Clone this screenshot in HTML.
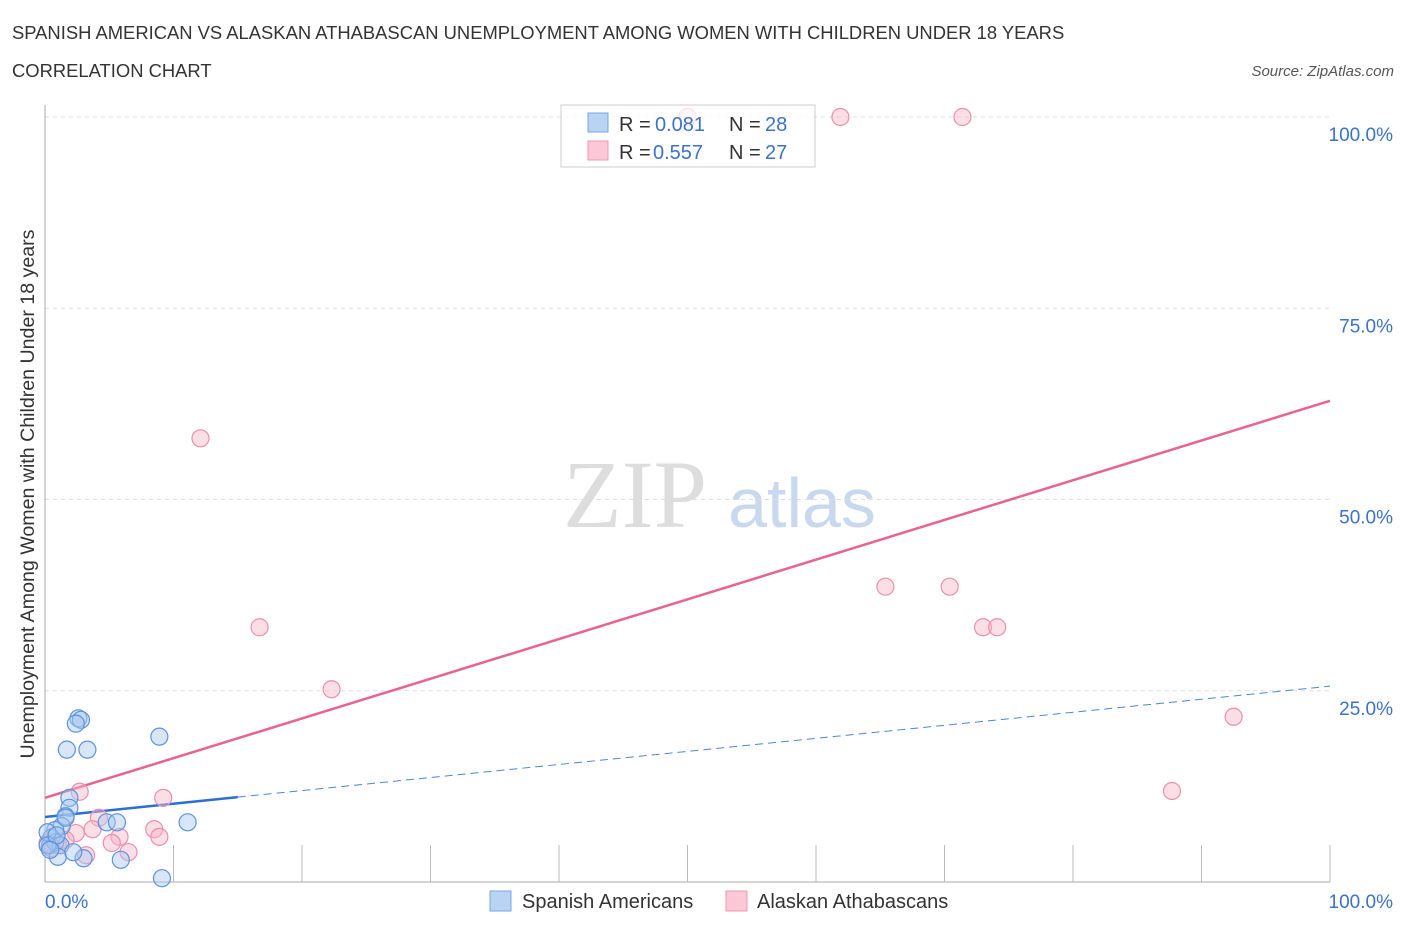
<!DOCTYPE html>
<html><head><meta charset="utf-8"><style>
body{margin:0;background:#fff;font-family:"Liberation Sans",sans-serif;}
svg text{font-family:"Liberation Sans",sans-serif;}
</style></head><body>
<svg id="chart" width="1406" height="930" xmlns="http://www.w3.org/2000/svg">
<text x="12" y="39" font-size="18.4" fill="#333">SPANISH AMERICAN VS ALASKAN ATHABASCAN UNEMPLOYMENT AMONG WOMEN WITH CHILDREN UNDER 18 YEARS</text>
<text x="12" y="77" font-size="18.4" fill="#333">CORRELATION CHART</text>
<text x="1394" y="76" font-size="15" fill="#555" text-anchor="end" font-style="italic">Source: ZipAtlas.com</text>
<text x="635" y="527" font-size="96" fill="#ddd" text-anchor="middle" style="font-family:'Liberation Serif',serif">ZIP</text>
<text x="802" y="527" font-size="70" fill="#c8d8ee" text-anchor="middle">atlas</text>
<text transform="translate(34,494) rotate(-90)" font-size="19.6" fill="#333" text-anchor="middle">Unemployment Among Women with Children Under 18 years</text>
<g id="grid"></g><g id="axes"></g><g id="lines"></g><g id="pts"></g>
<g>
<rect x="561" y="105" width="254" height="62" fill="#fff" fill-opacity="0.75" stroke="#ccc"/>
<rect x="588" y="113" width="20" height="19" fill="#b9d3f5" stroke="#7aa7e0"/>
<rect x="588" y="141" width="20" height="19" fill="#fcc7d6" stroke="#ec9ab2"/>
<text x="619" y="131" font-size="20" fill="#333">R =</text>
<text x="655" y="131" font-size="20" fill="#3a72cc">0.081</text>
<text x="729" y="131" font-size="20" fill="#333">N =</text>
<text x="765" y="131" font-size="20" fill="#3a72cc">28</text>
<text x="619" y="159" font-size="20" fill="#333">R =</text>
<text x="653" y="159" font-size="20" fill="#3a72cc">0.557</text>
<text x="729" y="159" font-size="20" fill="#333">N =</text>
<text x="765" y="159" font-size="20" fill="#3a72cc">27</text>
</g>
<g>
<rect x="490" y="891" width="21" height="20" fill="#b9d3f5" stroke="#7aa7e0"/>
<text x="522" y="908" font-size="20" fill="#333">Spanish Americans</text>
<rect x="726" y="891" width="21" height="20" fill="#fcc7d6" stroke="#ec9ab2"/>
<text x="757" y="908" font-size="20" fill="#333">Alaskan Athabascans</text>
</g>
</svg>
<script>
const blueX=[2.6,2.8,2.4,1.7,3.3,8.9,1.9,1.9,1.6,1.3,0.8,0.5,0.4,0.8,1.2,1.0,3.0,5.9,9.1,11.1,4.8,5.6,2.2,0.2,0.2,0.9,1.6,0.4];
const blueY=[21.4,21.2,20.7,17.3,17.3,19.0,11.0,9.7,8.6,7.3,6.8,5.8,4.8,5.2,4.8,3.3,3.1,2.9,0.5,7.8,7.8,7.8,3.9,6.5,4.8,6.1,8.4,4.2];
const pinkX=[12.1,16.7,22.3,50.0,61.9,71.4,65.4,70.4,73.0,74.1,92.5,87.7,2.7,9.2,4.2,8.5,8.9,3.7,2.4,5.8,5.2,6.5,3.2,1.0,0.5,1.6,0.2];
const pinkY=[58.0,33.3,25.2,100,100,100,38.6,38.6,33.3,33.3,21.6,11.9,11.8,11.0,8.4,6.9,5.9,6.9,6.4,5.9,5.1,3.9,3.5,4.8,4.4,5.5,5.1];
const yTicks=[25,50,75,100];
const yTickLabels=["25.0%","50.0%","75.0%","100.0%"];
const pinkLine=[11.0,62.9];
const blueLine=[8.5,11.1,25.6];
const X0=45,X1=1330,Y0=882,Y1=117;
const sx=v=>X0+(X1-X0)*v/100, sy=v=>Y0-(Y0-Y1)*v/100;
const NS="http://www.w3.org/2000/svg";
function mk(p,t,a){const e=document.createElementNS(NS,t);for(const k in a)e.setAttribute(k,a[k]);document.getElementById(p).appendChild(e);return e;}
yTicks.forEach((t,i)=>{
 const g=mk('grid','line',{x1:X0,x2:X1,y1:sy(t),y2:sy(t),stroke:'#ddd','stroke-dasharray':'4,4'});
 
 
 const l=mk('grid','text',{x:1393,y:sy(t)+24,'font-size':19,fill:'#3a72cc','text-anchor':'end'});
 l.textContent=yTickLabels[i];
 
 
});
const ax=mk('axes','line',{x1:X0,x2:X0,y1:105,y2:Y0,stroke:'#aaa'});


const bx=mk('axes','line',{x1:X0,x2:X1,y1:Y0,y2:Y0,stroke:'#aaa'});


for(let i=1;i<=10;i++){const t=mk('axes','line',{x1:sx(i*10),x2:sx(i*10),y1:Y0-37,y2:Y0,stroke:'#bbb'});
 
 }
const xl0=mk('axes','text',{x:45,y:908,'font-size':19,fill:'#3a72cc'});xl0.textContent='0.0%';


const xl1=mk('axes','text',{x:1393,y:908,'font-size':19,fill:'#3a72cc','text-anchor':'end'});xl1.textContent='100.0%';


function pts(xs,ys,fill,stroke,name){xs.forEach((x,i)=>{const c=mk('pts','circle',{cx:sx(x),cy:sy(ys[i]),r:8.5,fill:fill,stroke:stroke,'stroke-width':1.2,'fill-opacity':0.45});
 
 });}
pts(pinkX,pinkY,'#f9b6c9','#ec8fab','alaskan-athabascan-point');
pts(blueX,blueY,'#a9c8f0','#5d93dc','spanish-american-point');
const pl=mk('lines','line',{x1:sx(0),y1:sy(pinkLine[0]),x2:sx(100),y2:sy(pinkLine[1]),stroke:'#e8648f','stroke-width':2.5});


const bl=mk('lines','line',{x1:sx(0),y1:sy(blueLine[0]),x2:sx(15),y2:sy(blueLine[1]),stroke:'#2a6fd6','stroke-width':2.5});


const bd=mk('lines','line',{x1:sx(15),y1:sy(blueLine[1]),x2:sx(100),y2:sy(blueLine[2]),stroke:'#4a86dc','stroke-width':1,'stroke-dasharray':'8,5'});


</script>
</body></html>
